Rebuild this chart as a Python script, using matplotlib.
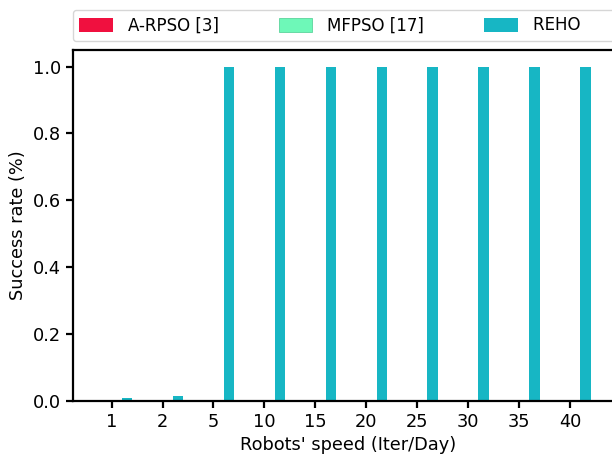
import numpy as np
import matplotlib.pyplot as plt

speeds = ['1', '2', '5', '10', '15', '20', '25', '30', '35', '40']
a_rpso = [0, 0, 0, 0, 0, 0, 0, 0, 0, 0]
mfpso = [0, 0, 0, 0, 0, 0, 0, 0, 0.001, 0.003]
reho = [0.008, 0.015, 1.0, 1.0, 1.0, 1.0, 1.0, 1.0, 1.0, 1.0]

plt.rcParams['font.family'] = 'DejaVu Sans'
plt.rcParams['font.size'] = 12.8

fig = plt.figure(figsize=(6.12, 4.54), dpi=100)
ax = fig.add_axes([0.119, 0.117, 0.9, 0.773])

x = np.arange(len(speeds))
w = 0.2
ax.bar(x - w, a_rpso, w, align='edge', color='#f0103f', label='A-RPSO [3]')
ax.bar(x, mfpso, w, align='edge', color='#6ef8b8', edgecolor='#5cd49c', linewidth=0.6, label='MFPSO [17]')
# padded label keeps the last legend column wide, frame runs off the right edge
ax.bar(x + w, reho, w, align='edge', color='#17b6c4', label='REHO' + ' ' * 7)

ax.set_xticks(x)
ax.set_xticklabels(speeds)
ax.set_xlim(-0.76, 10.05)
ax.set_ylim(0, 1.05)
ax.set_yticks([0.0, 0.2, 0.4, 0.6, 0.8, 1.0])
ax.set_xlabel("Robots' speed (Iter/Day)")
ax.set_ylabel('Success rate (%)')
for s in ax.spines.values():
    s.set_linewidth(1.6)
ax.tick_params(width=1.6, length=5)

ax.legend(loc='lower left', bbox_to_anchor=(0, 1.025, 1.0, 0.1), mode='expand',
          ncol=3, frameon=True, borderaxespad=0, fontsize=12,
          handlelength=2.0, handletextpad=0.9, handleheight=0.9)

fig.savefig('out.png', dpi=100)
